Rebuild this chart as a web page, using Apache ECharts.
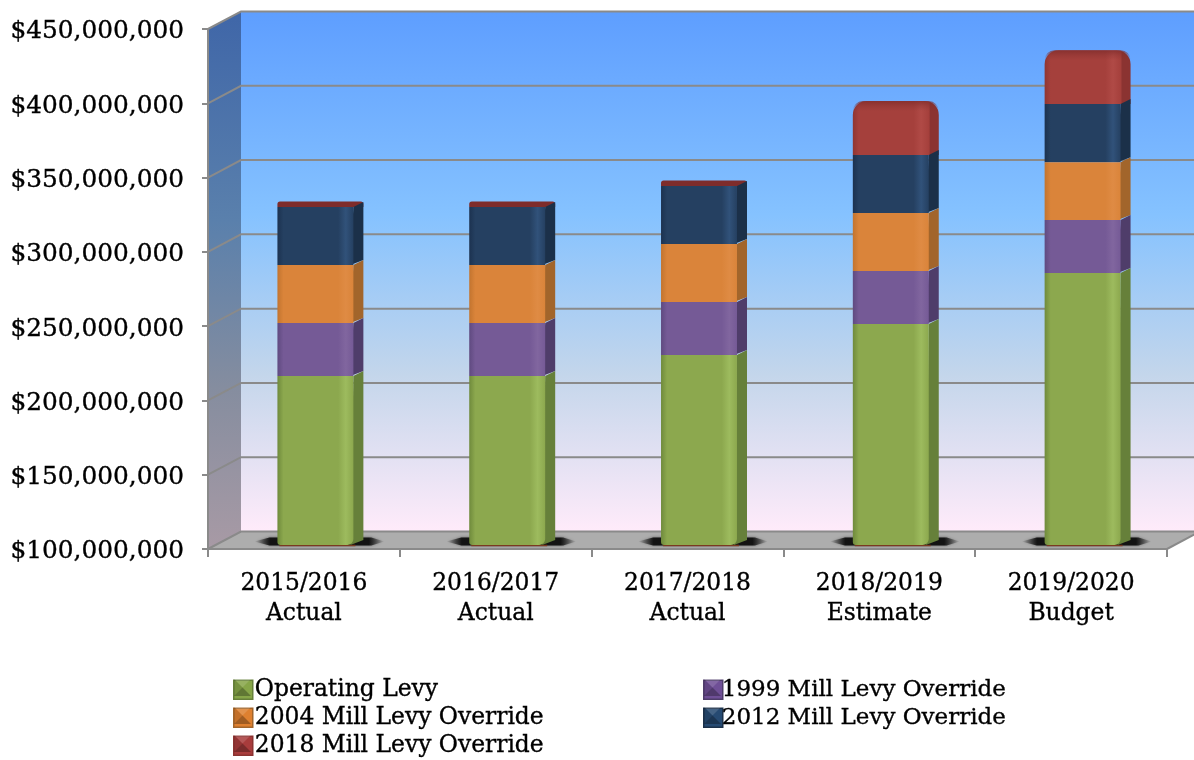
<!DOCTYPE html>
<html>
<head>
<meta charset="utf-8">
<style>html,body{margin:0;padding:0;background:#fff}#chart{width:1194px;height:760px}</style>
<script src="https://cdn.jsdelivr.net/npm/echarts@6/dist/echarts.min.js"></script>
</head>
<body>
<div id="chart"></div>
<script>
var categories = ['2015/2016\nActual', '2016/2017\nActual', '2017/2018\nActual', '2018/2019\nEstimate', '2019/2020\nBudget'];
var seriesNames = ['Operating Levy', '1999 Mill Levy Override', '2004 Mill Levy Override', '2012 Mill Levy Override', '2018 Mill Levy Override'];
var operatingLevy = [213.7, 213.7, 227.9, 248.7, 283.0];
var override1999 = [35.7, 35.7, 35.6, 35.7, 35.7];
var override2004 = [39.0, 39.0, 39.1, 39.0, 39.0];
var override2012 = [39.1, 39.1, 39.0, 39.1, 39.1];
var override2018 = [0.4, 0.4, 0.4, 33.0, 32.9];
var yTicks = [100, 150, 200, 250, 300, 350, 400, 450];

var layers = [operatingLevy, override1999, override2004, override2012, override2018];
var palette = [
  {base:'#8CA84E', dark:'#6F8A3C', light:'#9DBB5E', side:'#66803A', key:'#86A548'},
  {base:'#755A96', dark:'#5F4A80', light:'#81669F', side:'#4F3D6A', key:'#6F4F96'},
  {base:'#DA843A', dark:'#C2742F', light:'#DF8B44', side:'#A2652B', key:'#DE8030'},
  {base:'#254061', dark:'#1C3250', light:'#31527A', side:'#1B3049', key:'#264A72'},
  {base:'#A5403C', dark:'#8F3633', light:'#B04A46', side:'#8B3331', key:'#A83C3C'}
];
var M = 1e6, DX = 33, DY = 17.5, BAR_DX = 11.5, BAR_DY = 4, DEPTH_X = 10, DEPTH_Y = 5, BAR_RATIO = 0.396;

function money(v){ return '$' + Math.round(v).toString().replace(/\B(?=(\d{3})+$)/g, ','); }
function frame(api){
  var band = api.size([1, 0])[0];
  var lo = api.coord([0, yTicks[0] * M]);
  var hi = api.coord([categories.length - 1, yTicks[yTicks.length - 1] * M]);
  return {l: lo[0] - band / 2, r: hi[0] + band / 2, b: lo[1], t: hi[1]};
}
function vGrad(stops){ return {type:'linear', x:0, y:0, x2:0, y2:1, colorStops:stops}; }
function hGrad(stops){ return {type:'linear', x:0, y:0, x2:1, y2:0, colorStops:stops}; }

function renderWalls(params, api){
  var f = frame(api);
  return {type:'group', children:[
    {type:'polygon', shape:{points:[[f.l + DX, f.t - DY], [f.r + DX, f.t - DY], [f.r + DX, f.b - DY], [f.l + DX, f.b - DY]]},
      style:{fill:vGrad([{offset:0,color:'#5E9EFF'},{offset:0.39,color:'#85C2FF'},{offset:0.7,color:'#C4D6EB'},{offset:1,color:'#FFEBFA'}])}},
    {type:'polygon', shape:{points:[[f.l, f.t], [f.l + DX, f.t - DY], [f.l + DX, f.b - DY], [f.l, f.b]]},
      style:{fill:vGrad([{offset:0,color:'#3F66A8'},{offset:0.39,color:'#5A80AC'},{offset:0.7,color:'#858D9F'},{offset:1,color:'#A89AA5'}])}},
    {type:'polygon', shape:{points:[[f.l, f.b], [f.r, f.b], [f.r + DX, f.b - DY], [f.l + DX, f.b - DY]]},
      style:{fill:'#ADADAD'}}
  ]};
}
function renderGrid(params, api){
  var f = frame(api), y = api.coord([0, api.value(0) * M])[1];
  var kids = [{type:'polyline', shape:{points:[[f.l, y], [f.l + DX, y - DY], [f.r + DX, y - DY]]},
    style:{fill:null, stroke:'#8A8A8A', lineWidth:2}}];
  if (params.dataIndex === 0) {
    kids.push({type:'line', shape:{x1:f.r, y1:y, x2:f.r + DX, y2:y - DY}, style:{stroke:'#8A8A8A', lineWidth:2}});
  }
  return {type:'group', children:kids};
}
function renderShadow(params, api){
  var band = api.size([1, 0])[0], w = band * BAR_RATIO;
  var p = api.coord([api.value(0), yTicks[0] * M]);
  var x0 = p[0] + BAR_DX - w / 2, x1 = x0 + w + DEPTH_X, y = p[1] - BAR_DY;
  return {type:'group', children:[
    {type:'polygon', shape:{points:[[x0 - 23, y - 3.5], [x0 - 8, y - 7.5], [x1 + 8, y - 7.5], [x1 + 21, y - 3.5], [x1 + 8, y + 0.5], [x0 - 8, y + 0.5]]},
      style:{fill:hGrad([{offset:0,color:'rgba(40,40,40,0)'},{offset:0.12,color:'rgba(15,15,15,0.95)'},{offset:0.88,color:'rgba(15,15,15,0.95)'},{offset:1,color:'rgba(40,40,40,0)'}]),
        shadowBlur:3, shadowColor:'rgba(0,0,0,0.5)'}},
    {type:'line', shape:{x1:x0 + 2, y1:y + 0.5, x2:x1 - 8, y2:y + 0.5}, style:{stroke:'#7A3A20', lineWidth:1.5}}
  ]};
}
function renderLayer(params, api){
  var k = params.seriesIndex - 3, pal = palette[k];
  var band = api.size([1, 0])[0], w = band * BAR_RATIO;
  var a = api.coord([api.value(0), api.value(1)]), b = api.coord([api.value(0), api.value(2)]);
  var x0 = a[0] + BAR_DX - w / 2, x1 = x0 + w, yb = a[1] - BAR_DY, yt = b[1] - BAR_DY;
  var frontStops = [
    {offset:0,color:pal.dark},{offset:0.08,color:pal.base},{offset:0.8,color:pal.base},
    {offset:0.9,color:pal.light},{offset:1,color:pal.base}
  ];
  if (k === layers.length - 1) {
    var h = yb - yt, total = x1 + DEPTH_X - x0, r = Math.min(14, h + 2), edge = (x1 - x0) / total;
    var thin = h < 5;
    return {type:'group', children:[
      {type:'rect', shape:{x:x0, y:yt - DEPTH_Y, width:total, height:h + DEPTH_Y, r:[r, r, 0, 0]},
        style:{fill:thin ? '#7E2C2B' : hGrad([{offset:0,color:pal.dark},{offset:0.07,color:pal.base},{offset:edge * 0.8,color:pal.base},{offset:edge * 0.9,color:pal.light},{offset:edge,color:pal.base},{offset:edge + 0.02,color:pal.side},{offset:1,color:pal.side}])}},
      thin ? {type:'group', children:[]} : {type:'rect', shape:{x:x0, y:yt - DEPTH_Y, width:total, height:10, r:[r, r, 0, 0]},
        style:{fill:vGrad([{offset:0,color:'rgba(126,44,43,0.75)'},{offset:0.5,color:'rgba(126,44,43,0.3)'},{offset:1,color:'rgba(126,44,43,0)'}])}}
    ]};
  }
  var foot = k === 0 ? [0, 0, 6, 3] : 0;
  return {type:'group', children:[
    {type:'polygon', shape:{points:[[x1 - 3, yb], [x1 + DEPTH_X, yb - DEPTH_Y], [x1 + DEPTH_X, yt - DEPTH_Y], [x1, yt]]}, style:{fill:pal.side}},
    {type:'rect', shape:{x:x0, y:yt, width:x1 - x0, height:yb - yt, r:foot}, style:{fill:hGrad(frontStops)}}
  ]};
}

var chartSeries = [
  {type:'custom', name:'walls', silent:true, z:1, clip:false, renderItem:renderWalls, data:[[0]]},
  {type:'custom', name:'gridlines', silent:true, z:2, clip:false, renderItem:renderGrid, data:yTicks.map(function(t){ return [t]; }), encode:{}},
  {type:'custom', name:'shadows', silent:true, z:3, clip:false, renderItem:renderShadow, data:categories.map(function(c, i){ return [i]; }), encode:{}}
];
var running = categories.map(function(){ return 0; });
seriesNames.forEach(function(name, k){
  var rows = categories.map(function(c, i){
    var lo = running[i], hi = lo + layers[k][i];
    running[i] = hi;
    return [i, (k === 0 ? yTicks[0] : lo) * M, hi * M];
  });
  chartSeries.push({type:'custom', name:name, z:9 - k, clip:false, renderItem:renderLayer, data:rows,
    encode:{x:0, y:[1, 2]}, itemStyle:{color:palette[k].key}});
});

var FONT = '"DejaVu Serif"';
var INK = {color:'#000', textBorderColor:'#000', textBorderWidth:0.35};
var legendSlots = [[233, 678], [703, 678], [233, 706], [703, 706], [233, 734]];
var legends = seriesNames.map(function(name, k){
  var rightCol = k % 2 === 1 && k < 4;
  return {left:legendSlots[k][0], top:legendSlots[k][1], icon:'rect', itemWidth:19, itemHeight:19, selectedMode:false,
    padding:0, textStyle:Object.assign({fontFamily:FONT, fontSize:rightCol ? 23 : 23.4, padding:[0, 0, 0, rightCol ? -6 : -3]}, INK),
    data:[{name:name, itemStyle:{color:palette[k].key, borderColor:palette[k].side, borderWidth:1.5}}]};
});
var bevels = [];
legendSlots.forEach(function(s){
  var x = s[0] + 1, y = s[1] + 1, e = 17, c = 8.5;
  [[[x,y],[x+e,y],[x+c,y+c],'rgba(255,255,255,0.14)'],
   [[x,y],[x,y+e],[x+c,y+c],'rgba(0,0,0,0.12)'],
   [[x,y+e],[x+e,y+e],[x+c,y+c],'rgba(0,0,0,0.28)']].forEach(function(t){
    bevels.push({type:'polygon', z:20, silent:true, shape:{points:[t[0], t[1], t[2]]}, style:{fill:t[3]}});
  });
});

var chart = echarts.init(document.getElementById('chart'), null, {renderer:'canvas'});
chart.setOption({
  animation:false,
  backgroundColor:'#fff',
  grid:{left:208, right:27, top:29, bottom:211, containLabel:false},
  legend:legends,
  graphic:bevels,
  tooltip:{show:false},
  xAxis:{type:'category', data:categories, z:12,
    axisLine:{lineStyle:{color:'#8A8A8A', width:2}},
    axisTick:{show:true, length:8, lineStyle:{color:'#8A8A8A', width:2}},
    axisLabel:Object.assign({fontFamily:FONT, fontSize:23.4, lineHeight:30, margin:20, interval:0}, INK)},
  yAxis:{type:'value', min:yTicks[0] * M, max:yTicks[yTicks.length - 1] * M, interval:50 * M, z:12,
    splitLine:{show:false},
    axisLine:{show:true, lineStyle:{color:'#8A8A8A', width:2}},
    axisTick:{show:true, length:6, lineStyle:{color:'#8A8A8A', width:2}},
    axisLabel:{fontFamily:FONT, margin:24, formatter:function(v){ return '{t|' + money(v) + '}'; },
      rich:{t:Object.assign({fontFamily:FONT, fontSize:24.8, lineHeight:30, padding:[6, 0, 0, 0]}, INK)}}},
  series:chartSeries
});
</script>
</body>
</html>
